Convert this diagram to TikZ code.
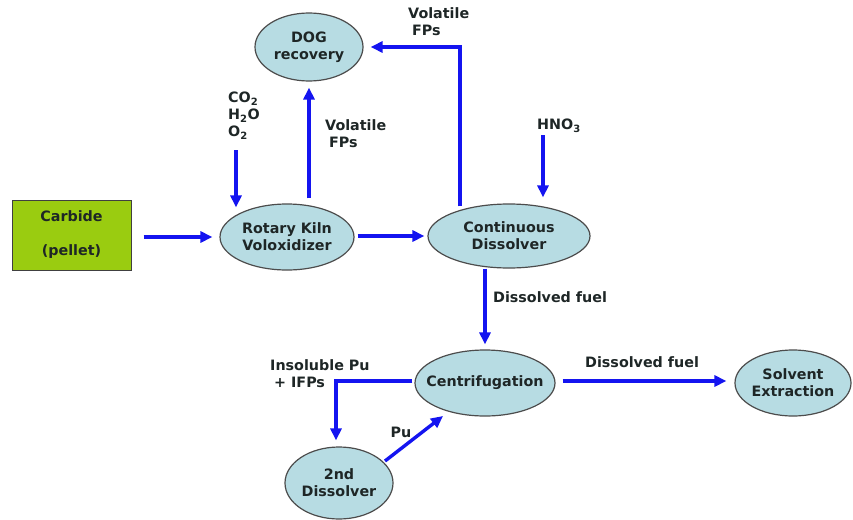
\documentclass[tikz,border=0pt]{standalone}
\usepackage{fontspec}
\setmainfont{DejaVu Sans}
\usetikzlibrary{shapes.geometric,arrows.meta,calc}
\definecolor{procfill}{HTML}{B7DCE3}
\definecolor{carbfill}{HTML}{9ACC10}
\definecolor{flowblue}{HTML}{1414F0}
\definecolor{txt}{HTML}{1E2626}
\begin{document}
\begin{tikzpicture}[x=1pt,y=-1pt,
  txtfont/.style={font=\bfseries\fontsize{14.3}{17}\selectfont,text=txt},
  proc/.style={ellipse,draw=black!70,line width=1.2pt,fill=procfill,inner sep=0pt},
  ptext/.style={txtfont,align=center,inner sep=0pt},
  flow/.style={draw=flowblue,line width=3.4pt,-{Triangle[length=12pt,width=11pt]}},
  lbl/.style={txtfont,align=left,inner sep=0pt,anchor=north west}]
\useasboundingbox (0,0) rectangle (853,519);
\fill[white] (0,0) rectangle (853,519);

% process nodes
\node[draw=black!75,line width=1pt,fill=carbfill,minimum width=119pt,minimum height=70pt,inner sep=0pt,
      label={[ptext]center:Carbide\\[17pt](pellet)}] (carb) at (71.5,235) {};
\node[proc,minimum width=134pt,minimum height=66pt,label={[ptext]center:Rotary Kiln\\Voloxidizer}] (kiln) at (287,237) {};
\node[proc,minimum width=108pt,minimum height=68pt,label={[ptext]center:DOG\\recovery}] (dog) at (309,47) {};
\node[proc,minimum width=162pt,minimum height=64pt,label={[ptext]center:Continuous\\Dissolver}] (cont) at (509,236) {};
\node[proc,minimum width=140pt,minimum height=66pt,label={[ptext]center:Centrifugation}] (cent) at (485,383) {};
\node[proc,minimum width=116pt,minimum height=66pt,label={[ptext]center:Solvent\\Extraction}] (solv) at (793,383) {};
\node[proc,minimum width=108pt,minimum height=72pt,label={[ptext]center:2nd\\Dissolver}] (sec) at (339,483) {};

% labels
\node[lbl] (gases) at (228,92) {CO\textsubscript{2}\\H\textsubscript{2}O\\O\textsubscript{2}};
\node[lbl] (volk) at (325,119) {Volatile\\\hspace{4pt}FPs};
\node[lbl] (volt) at (408,7) {Volatile\\\hspace{4pt}FPs};
\node[lbl] (hno) at (537,119) {HNO\textsubscript{3}};
\node[lbl] (df1) at (493,291) {Dissolved fuel};
\node[lbl] (df2) at (585,356) {Dissolved fuel};
\node[lbl] (ins) at (270,359) {Insoluble Pu\\\hspace{4pt}+ IFPs};
\node[txtfont,inner sep=0pt] (pu) at (401,432) {Pu};

% free ends
\coordinate (g0) at (236,150);
\coordinate (h0) at (543,135);

% connectors
\draw[flow,shorten <=12pt,shorten >=7pt] (carb.east |- kiln.west) -- (kiln.west);
\draw[flow,shorten >=-4pt] (g0) -- (g0 |- kiln.north);
\draw[flow,shorten <=5pt,shorten >=6pt] (kiln.north -| dog.south) -- (dog.south);
\draw[flow,shorten >=7pt] ($(cont.north)+(-49,3)$) |- (dog.east);
\draw[flow,shorten >=6pt] (h0) -- (h0 |- cont.north);
\draw[flow,shorten <=3pt,shorten >=3pt] (kiln.east |- cont.west) -- (cont.west);
\draw[flow,shorten >=5pt] (cont.south -| cent.north) -- (cent.north);
\draw[flow,shorten <=7pt,shorten >=8pt] ($(cent.east)+(0,-2)$) -- ($(solv.west)+(0,-2)$);
\draw[flow,shorten >=6pt] ($(cent.west)+(-2,-2)$) -| ($(sec.north)+(-3,0)$);
\draw[flow] ($(sec.center)+(46,-22)$) -- ($(cent.center)+(-42,33)$);
\end{tikzpicture}
\end{document}
